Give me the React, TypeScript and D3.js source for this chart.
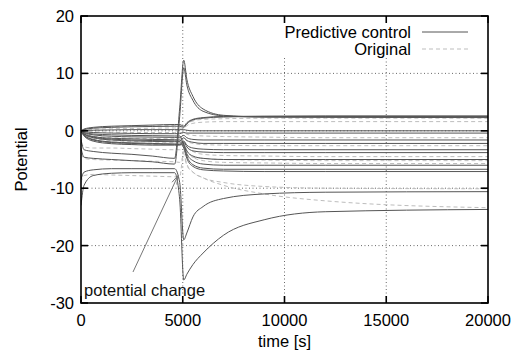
import * as d3 from 'd3'

// shared time knots (s): before and after the potential change at ~5000 s
const tEarly = [0, 150, 600, 1500, 2500, 3500, 4600, 4850]
const tLate = [5050, 5200, 5500, 6000, 7000, 9000, 12000, 20000]

// Predictive control (solid)
const predictiveEarly = [
  [0, 0.3, 0.6, 0.8, 0.9, 1.0, 1.1, 1.1],
  [0, 0.2, 0.45, 0.6, 0.7, 0.75, 0.8, 0.8],
  [0, 0.05, 0.1, 0.15, 0.2, 0.2, 0.2, 0.2],
  [0, -0.15, -0.3, -0.4, -0.45, -0.5, -0.5, -0.5],
  [0, -0.35, -0.7, -0.95, -1.05, -1.1, -1.15, -1.15],
  [0, -0.55, -1.1, -1.45, -1.6, -1.7, -1.75, -1.8],
  [0, -0.75, -1.5, -1.95, -2.1, -2.2, -2.3, -2.3],
  [0, -0.9, -1.8, -2.25, -2.4, -2.5, -2.5, -2.5],
  [0, -0.5, -1.0, -1.3, -1.4, -1.5, -1.55, -1.6],
  [0, -0.8, -1.6, -2.05, -2.2, -2.3, -2.35, -2.4],
  [0, -0.3, -0.55, -0.7, -0.8, -0.85, -0.9, -0.9],
  [0, -0.6, -1.2, -1.6, -1.75, -1.85, -1.9, -1.9],
  [-1.5, -3.3, -3.6, -3.9, -4.1, -4.4, -4.8, 4.0],
  [-3, -4.6, -4.8, -5.0, -5.2, -5.4, -5.8, 2.5],
  [-8.5, -7.2, -6.8, -6.6, -6.6, -6.6, -6.6, -9.0],
  [-13, -9.5, -7.8, -7.4, -7.3, -7.3, -7.3, -12.0]
]
const predictiveLate = [
  [0.8, 1.4, 2.0, 2.3, 2.5, 2.55, 2.6, 2.6],
  [0.6, 1.2, 1.9, 2.2, 2.4, 2.5, 2.5, 2.5],
  [0.2, 0.1, 0.0, 0.0, 0.0, 0.0, 0.0, 0.0],
  [-0.3, -0.4, -0.4, -0.4, -0.4, -0.4, -0.4, -0.4],
  [-0.8, -1.2, -1.5, -1.6, -1.6, -1.6, -1.6, -1.6],
  [-1.2, -1.7, -2.0, -2.2, -2.2, -2.2, -2.2, -2.2],
  [-1.8, -2.5, -3.0, -3.2, -3.3, -3.3, -3.3, -3.3],
  [-2.0, -2.8, -3.5, -3.7, -3.8, -3.8, -3.8, -3.8],
  [-2.3, -3.5, -4.4, -4.8, -5.0, -5.0, -5.0, -5.0],
  [-2.5, -4.0, -5.2, -5.8, -6.0, -6.0, -6.0, -6.0],
  [-2.6, -4.4, -5.9, -6.5, -6.7, -6.7, -6.7, -6.7],
  [-3.0, -4.8, -6.2, -6.8, -7.0, -7.1, -7.1, -7.1],
  [12.3, 9.0, 6.0, 3.8, 2.7, 2.4, 2.35, 2.3],
  [11.0, 8.0, 5.3, 3.4, 2.6, 2.4, 2.4, 2.4],
  [-19, -17.8, -15, -13.2, -11.8, -11.0, -10.7, -10.6],
  [-26, -25, -23.3, -21.3, -18.2, -15.5, -14.1, -13.7]
]

// Original (dashed)
const originalEarly = [
  [0, 0.25, 0.5, 0.7, 0.8, 0.85, 0.9, 0.9],
  [0, 0.1, 0.25, 0.35, 0.4, 0.45, 0.5, 0.5],
  [0, -0.1, -0.2, -0.25, -0.3, -0.3, -0.3, -0.3],
  [0, -0.45, -0.9, -1.2, -1.3, -1.35, -1.4, -1.4],
  [0, -0.65, -1.3, -1.7, -1.85, -1.95, -2.0, -2.0],
  [0, -0.85, -1.7, -2.1, -2.3, -2.35, -2.4, -2.4],
  [-2, -2.8, -3.0, -3.0, -3.1, -3.2, -3.3, -3.3],
  [-4, -4.8, -5.0, -5.1, -5.2, -5.3, -5.4, -5.5],
  [-9, -7.8, -7.6, -7.7, -7.8, -7.9, -8.0, -8.0]
]
const originalLate = [
  [0.7, 1.2, 1.7, 2.0, 2.1, 2.2, 2.2, 2.2],
  [0.4, 0.9, 1.3, 1.5, 1.6, 1.6, 1.6, 1.6],
  [-0.3, -0.6, -0.8, -0.9, -1.0, -1.1, -1.2, -1.2],
  [-1.2, -1.8, -2.2, -2.4, -2.5, -2.6, -2.6, -2.6],
  [-1.8, -2.8, -3.6, -4.1, -4.3, -4.4, -4.5, -4.5],
  [-2.2, -3.4, -4.6, -5.2, -5.5, -5.6, -5.7, -5.7],
  [-4.0, -5.8, -7.2, -8.2, -9.0, -9.7, -10.0, -10.1],
  [-4.5, -6.0, -7.2, -8.2, -9.5, -11.0, -12.2, -13.4],
  [-3.5, -4.2, -4.6, -4.8, -5.0, -5.1, -5.2, -5.2]
]

const xTicks = [0, 5000, 10000, 15000, 20000]
const yTicks = [20, 10, 0, -10, -20, -30]
const xGrid = [5000, 10000, 15000]
const yGrid = [10, 0, -10, -20]

const arrowFrom: [number, number] = [2555, -24.6]
const arrowTo: [number, number] = [4770, -7.8]
const annotationAt: [number, number] = [150, -28.7]

const W = 517
const H = 353
const FONT = '"Liberation Sans", Arial, sans-serif'
const PRED = '#555'
const ORIG = '#bdbdbd'

export default function App() {
  const x = d3.scaleLinear().domain([0, 20000]).range([81, 488])
  const y = d3.scaleLinear().domain([-30, 20]).range([303, 16])

  const toPoints = (early: number[], late: number[]) =>
    tEarly.map((t, i) => [t, early[i]] as [number, number])
      .concat(tLate.map((t, i) => [t, late[i]] as [number, number]))

  const line = d3.line<[number, number]>()
    .x(d => x(d[0]))
    .y(d => y(d[1]))
    .curve(d3.curveMonotoneX)

  const [x0, x1] = x.range()
  const [yb, yt] = y.range()

  // arrow head
  const ax1 = x(arrowTo[0]), ay1 = y(arrowTo[1])
  const ang = Math.atan2(ay1 - y(arrowFrom[1]), ax1 - x(arrowFrom[0]))
  const head = [ang + Math.PI - 0.3, ang + Math.PI + 0.3]
    .map(a => `M${ax1},${ay1}L${ax1 + 9 * Math.cos(a)},${ay1 + 9 * Math.sin(a)}`).join('')

  return (
    <svg width={W} height={H} style={{ position: 'absolute', left: 0, top: 0, background: '#fff' }}
      fontFamily={FONT}>
      <defs>
        <clipPath id="plot"><rect x={x0} y={yt} width={x1 - x0} height={yb - yt} /></clipPath>
      </defs>

      {/* grid */}
      <g stroke="#444" strokeWidth={0.8} strokeDasharray="1,2.5">
        {xGrid.map(v => <line key={'gx' + v} x1={x(v)} x2={x(v)} y1={yt} y2={yb} />)}
        {yGrid.map(v => <line key={'gy' + v} x1={x0} x2={x1} y1={y(v)} y2={y(v)} />)}
      </g>

      {/* key box hides the grid behind it */}
      <rect x={279} y={yt + 1} width={x1 - 280} height={41} fill="#fff" />

      <g clipPath="url(#plot)" fill="none">
        {originalEarly.map((e, i) => (
          <path key={'o' + i} d={line(toPoints(e, originalLate[i])) || ''}
            stroke={ORIG} strokeWidth={1} strokeDasharray="4,3" />
        ))}
        {predictiveEarly.map((e, i) => (
          <path key={'p' + i} d={line(toPoints(e, predictiveLate[i])) || ''}
            stroke={PRED} strokeWidth={1} />
        ))}
      </g>

      {/* annotation */}
      <path d={`M${x(arrowFrom[0])},${y(arrowFrom[1])}L${ax1},${ay1}` + head}
        stroke="#777" strokeWidth={1} fill="none" />
      <text x={x(annotationAt[0])} y={y(annotationAt[1])} fontSize={16.5} fill="#111">potential change</text>

      {/* frame + ticks */}
      <rect x={x0} y={yt} width={x1 - x0} height={yb - yt} fill="none" stroke="#000" strokeWidth={1.6} />
      <g stroke="#000" strokeWidth={1.6}>
        {xTicks.map(v => (
          <g key={'tx' + v}>
            <line x1={x(v)} x2={x(v)} y1={yb} y2={yb - 7} />
            <line x1={x(v)} x2={x(v)} y1={yt} y2={yt + 7} />
          </g>
        ))}
        {yTicks.map(v => (
          <g key={'ty' + v}>
            <line x1={x0} x2={x0 + 7} y1={y(v)} y2={y(v)} />
            <line x1={x1} x2={x1 - 7} y1={y(v)} y2={y(v)} />
          </g>
        ))}
      </g>

      <g fontSize={16.5} fill="#000">
        {xTicks.map(v => (
          <text key={'lx' + v} x={x(v)} y={326} textAnchor="middle">{v}</text>
        ))}
        {yTicks.map(v => (
          <text key={'ly' + v} x={74} y={y(v)} textAnchor="end" dominantBaseline="central">{v}</text>
        ))}
        <text x={(x0 + x1) / 2} y={347} textAnchor="middle">time [s]</text>
        <text transform={`translate(27,${(yt + yb) / 2}) rotate(-90)`} textAnchor="middle">Potential</text>
      </g>

      {/* legend */}
      <g fontSize={16.5} fill="#000">
        <text x={411} y={38} textAnchor="end">Predictive control</text>
        <line x1={422} x2={468} y1={32} y2={32} stroke={PRED} strokeWidth={1} />
        <text x={411} y={55} textAnchor="end">Original</text>
        <line x1={422} x2={468} y1={49} y2={49} stroke={ORIG} strokeWidth={1} strokeDasharray="4,3" />
      </g>
    </svg>
  )
}
